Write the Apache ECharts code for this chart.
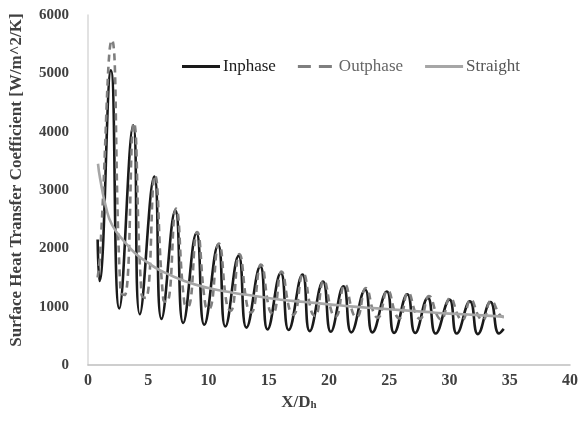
<!DOCTYPE html>
<html><head><meta charset="utf-8">
<script src="https://cdn.jsdelivr.net/npm/echarts@6/dist/echarts.min.js"></script>
<style>html,body{margin:0;padding:0;background:#fff}#c{width:582px;height:421px}</style>
</head><body><div id="c"></div>
<script>
// X/Dh positions and heat transfer coefficient values
const inphaseX = [0.8,0.95,1.9,2.6,3.75,4.3,5.5,6.1,7.25,7.9,9.0,9.65,10.8,11.4,12.5,13.15,14.3,14.9,16.0,16.65,17.8,18.4,19.5,20.15,21.2,21.85,23.0,23.6,24.8,25.4,26.5,27.15,28.2,28.85,30.0,30.6,31.7,32.35,33.4,34.1,34.5];
const inphaseY = [2150,1440,5050,970,4110,870,3230,790,2650,720,2260,690,2060,660,1870,640,1690,610,1580,600,1550,580,1430,570,1350,560,1290,560,1260,550,1210,550,1150,540,1120,540,1090,530,1080,540,620];

const outphaseX = [0.8,1.0,1.98,2.7,3.05,3.8,4.45,4.8,5.55,6.25,6.55,7.3,8.0,8.3,9.05,9.75,10.05,10.85,11.55,11.85,12.55,13.25,13.55,14.35,15.05,15.35,16.05,16.75,17.05,17.85,18.55,18.85,19.55,20.25,20.55,21.3,22.0,22.3,23.05,23.75,24.05,24.85,25.55,25.85,26.55,27.25,27.55,28.3,29.0,29.3,30.05,30.75,31.05,31.75,32.45,32.75,33.45,34.2,34.5];
const outphaseY = [1500,1900,5570,1250,1200,4150,1200,1150,3250,1120,1080,2680,1060,1000,2280,1020,960,2080,1000,930,1900,970,900,1720,950,880,1600,930,860,1570,910,840,1450,890,830,1380,880,820,1320,870,810,1280,860,800,1240,850,790,1180,840,780,1150,830,770,1120,820,770,1100,850,820];

const straightX = [0.83,1.0,1.5,2,3,4,5,6,8,10,12,14,16,18,20,22,24,26,28,30,32,34.5];
const straightY = [3450,3200,2700,2400,2120,1900,1750,1620,1440,1320,1240,1180,1120,1080,1040,1000,970,940,910,880,860,830];

const seriesNames = ['Inphase','Outphase','Straight'];
const xTicks = {min:0, max:40, interval:5};
const yTicks = {min:0, max:6000, interval:1000};

const pairs = (xs, ys) => xs.map((x,i)=>[x, ys[i]]);
const font = 'Liberation Serif';
const solidIcon = 'path://M0,0H38V3H0Z';
const dashIcon = 'path://M0,0H13V3H0Z M21,0H34V3H21Z M34,0H38V0H34Z';

const chart = echarts.init(document.getElementById('c'), null, {renderer:'canvas'});
chart.setOption({
  animation:false,
  backgroundColor:'#fff',
  grid:{left:87, right:12, top:15, bottom:56, containLabel:false},
  legend:{
    left:177, top:53, itemGap:22, itemWidth:38, itemHeight:3,
    data:[
      {name:seriesNames[0], icon:solidIcon, textStyle:{color:'#1a1a1a'}},
      {name:seriesNames[1], icon:dashIcon, textStyle:{color:'#666'}},
      {name:seriesNames[2], icon:solidIcon, textStyle:{color:'#555'}}
    ],
    textStyle:{fontFamily:font, fontSize:17, fontWeight:'normal', padding:[0,0,0,-2]}
  },
  xAxis:{
    type:'value', min:xTicks.min, max:xTicks.max, interval:xTicks.interval,
    name:'{a|X/D}{b|h}', nameLocation:'middle', nameGap:20,
    nameTextStyle:{padding:[0,60,0,0], rich:{
      a:{fontFamily:font, fontSize:17, fontWeight:'bold', color:'#404040'},
      b:{fontFamily:font, fontSize:11, fontWeight:'bold', color:'#404040', verticalAlign:'bottom', padding:[6,0,0,0]}
    }},
    axisLine:{show:true, lineStyle:{color:'#bfbfbf', width:1.5}},
    axisTick:{show:false},
    splitLine:{show:false},
    axisLabel:{fontFamily:font, fontSize:16, fontWeight:'bold', color:'#404040', margin:8, formatter:v=>String(v)}
  },
  yAxis:{
    type:'value', min:yTicks.min, max:yTicks.max, interval:yTicks.interval,
    name:'Surface Heat Transfer Coefficient [W/m^2/K]', nameLocation:'middle', nameGap:63,
    nameTextStyle:{fontFamily:font, fontSize:17, fontWeight:'bold', color:'#404040', padding:[0,0,0,20]},
    axisLine:{show:true, lineStyle:{color:'#d9d9d9', width:1.5}},
    axisTick:{show:false},
    splitLine:{show:false},
    axisLabel:{fontFamily:font, fontSize:15, fontWeight:'bold', color:'#404040', margin:19, formatter:v=>String(v)}
  },
  series:[
    {name:seriesNames[0], type:'line', data:pairs(inphaseX,inphaseY), smooth:0.5, symbol:'none',
     lineStyle:{color:'#1a1a1a', width:2.6}, itemStyle:{color:'#1a1a1a'}, z:2},
    {name:seriesNames[1], type:'line', data:pairs(outphaseX,outphaseY), smooth:0.5, symbol:'none',
     lineStyle:{color:'#7f7f7f', width:2.6, type:[7,5]}, itemStyle:{color:'#7f7f7f'}, z:3},
    {name:seriesNames[2], type:'line', data:pairs(straightX,straightY), smooth:0.5, symbol:'none',
     lineStyle:{color:'#a6a6a6', width:2.6}, itemStyle:{color:'#a6a6a6'}, z:4}
  ]
});
</script></body></html>
